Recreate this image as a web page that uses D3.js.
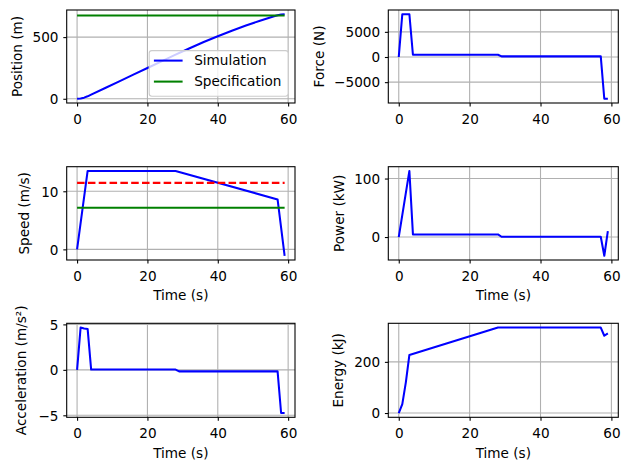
<!DOCTYPE html>
<html><head><meta charset="utf-8">
<script src="https://cdn.jsdelivr.net/npm/d3@7"></script>
<style>
body{margin:0;background:#fff}
svg text{font-family:"DejaVu Sans",sans-serif;font-size:13.6px;fill:#000}
</style>
</head><body>
<svg id="chart" width="629" height="470"></svg>
<script>
// ---------- data ----------
const timeTicks = [0, 20, 40, 60];

const positionTime   = [0, 1, 2, 3, 4, 8, 12, 16, 20, 24, 28, 32, 36, 40, 44, 48, 52, 56, 57, 58, 59];
const positionValues = [0, 2, 9, 20, 33.5, 87.5, 141.5, 195.5, 249.5, 303.5, 357.5, 410, 460, 507, 552, 594, 633, 669, 678, 684, 685.5];
const positionSpec   = 675;
const positionTicks  = [0, 500];

const forceTime   = [0, 1, 3, 4, 28, 29, 57, 58, 59];
const forceValues = [0, 8500, 8500, 450, 450, 120, 120, -8300, -8300];
const forceTicks  = [-5000, 0, 5000];

const speedTime   = [0, 3, 28, 57, 58, 59];
const speedValues = [0, 13.5, 13.5, 8.6, 3.75, -1.1];
const speedMax    = 11.45;   // red dashed
const speedSpec   = 7.15;    // green
const speedTicks  = [0, 10];

const powerTime   = [0, 3, 4, 28, 29, 57, 58, 59];
const powerValues = [0, 113, 4.5, 4.5, 0.5, 0.5, -32, 10];
const powerTicks  = [0, 100];

const accelTime   = [0, 1, 2, 3, 4, 28, 29, 57, 58, 59];
const accelValues = [0, 4.65, 4.55, 4.5, 0.03, 0.03, -0.17, -0.17, -4.75, -4.75];
const accelTicks  = [-5, 0, 5];

const energyTime   = [0, 1, 2, 3, 28, 57, 58, 59];
const energyValues = [0, 35, 120, 227, 334, 334, 302, 311];
const energyTicks  = [0, 200];

const legendLabels = ["Simulation", "Specification"];

// ---------- layout ----------
const colX = [{l: 66.7, r: 295}, {l: 388.3, r: 618.3}];
const rowY = [{t: 10, b: 103}, {t: 166.7, b: 260}, {t: 323.3, b: 417.3}];
const ylabelX = [[17.5, 319.2], [24.2, 339.2], [21.7, 338.5]];
const BLUE = "#0000ff", GREEN = "#008000", RED = "#ff0000";
const LW = 2.05, GRID = "#b0b0b0", GW = 1.09, TICK = 3.4, PAD = 4.8;

const panels = [
  {row:0,col:0,ylabel:"Position (m)",t:positionTime,v:positionValues,ticks:positionTicks,
   hlines:[{y:positionSpec,color:GREEN}],legend:true,xlabel:false},
  {row:0,col:1,ylabel:"Force (N)",t:forceTime,v:forceValues,ticks:forceTicks,hlines:[],xlabel:false},
  {row:1,col:0,ylabel:"Speed (m/s)",t:speedTime,v:speedValues,ticks:speedTicks,
   hlines:[{y:speedMax,color:RED,dash:"7.55,3.27"},{y:speedSpec,color:GREEN}],xlabel:true},
  {row:1,col:1,ylabel:"Power (kW)",t:powerTime,v:powerValues,ticks:powerTicks,hlines:[],xlabel:true},
  {row:2,col:0,ylabel:"Acceleration (m/s²)",t:accelTime,v:accelValues,ticks:accelTicks,hlines:[],xlabel:true},
  {row:2,col:1,ylabel:"Energy (kJ)",t:energyTime,v:energyValues,ticks:energyTicks,hlines:[],xlabel:true}
];

const svg = d3.select("#chart");
const fmt = d3.format("");

panels.forEach((p, i) => {
  const L = colX[p.col].l, R = colX[p.col].r, T = rowY[p.row].t, B = rowY[p.row].b;
  const tmin = d3.min(p.t), tmax = d3.max(p.t), tm = (tmax - tmin) * 0.05;
  const allY = p.v.concat(p.hlines.map(h => h.y));
  const ymin = d3.min(allY), ymax = d3.max(allY), ym = (ymax - ymin) * 0.05;
  const x = d3.scaleLinear().domain([tmin - tm, tmax + tm]).range([L, R]);
  const y = d3.scaleLinear().domain([ymin - ym, ymax + ym]).range([B, T]);

  const g = svg.append("g");
  g.append("clipPath").attr("id", "clip" + i).append("rect")
    .attr("x", L).attr("y", T).attr("width", R - L).attr("height", B - T);

  // grid
  const grid = g.append("g");
  timeTicks.forEach(tv => grid.append("line").attr("x1", x(tv)).attr("x2", x(tv)).attr("y1", T).attr("y2", B)
    .attr("stroke", GRID).attr("stroke-width", GW));
  p.ticks.forEach(tv => grid.append("line").attr("x1", L).attr("x2", R).attr("y1", y(tv)).attr("y2", y(tv))
    .attr("stroke", GRID).attr("stroke-width", GW));

  const plot = g.append("g").attr("clip-path", `url(#clip${i})`);
  const line = d3.line().x(d => x(d[0])).y(d => y(d[1]));
  plot.append("path").datum(p.t.map((tv, k) => [tv, p.v[k]]))
    .attr("d", line).attr("fill", "none").attr("stroke", BLUE).attr("stroke-width", LW)
    .attr("stroke-linejoin", "round").attr("stroke-linecap", "butt");
  p.hlines.forEach(h => {
    plot.append("path").datum([[tmin, h.y], [tmax, h.y]]).attr("d", line)
      .attr("fill", "none").attr("stroke", h.color).attr("stroke-width", LW)
      .attr("stroke-dasharray", h.dash || null);
  });

  // axes
  const xAxis = d3.axisBottom(x).tickValues(timeTicks).tickSize(TICK).tickPadding(PAD).tickFormat(fmt);
  const yAxis = d3.axisLeft(y).tickValues(p.ticks).tickSize(TICK).tickPadding(PAD).tickFormat(fmt);
  const gx = g.append("g").attr("transform", `translate(0,${B})`).call(xAxis);
  const gy = g.append("g").attr("transform", `translate(${L},0)`).call(yAxis);
  [gx, gy].forEach(a => {
    a.select(".domain").remove();
    a.selectAll(".tick line").attr("stroke", "#000").attr("stroke-width", GW);
    a.selectAll(".tick text").attr("font-family", null).attr("font-size", null).attr("fill", "#000");
  });
  gx.selectAll(".tick text").attr("dy", "0.95em");
  gy.selectAll(".tick text").attr("dy", "0.35em");

  // spines
  g.append("rect").attr("x", L).attr("y", T).attr("width", R - L).attr("height", B - T)
    .attr("fill", "none").attr("stroke", "#000").attr("stroke-width", GW);

  // labels
  g.append("text").attr("transform", `translate(${ylabelX[p.row][p.col]},${(T + B) / 2}) rotate(-90)`)
    .attr("text-anchor", "middle").attr("dy", "0.35em").text(p.ylabel);
  if (p.xlabel) {
    g.append("text").attr("x", (L + R) / 2).attr("y", B + 35.7).attr("text-anchor", "middle")
      .attr("dy", "0.35em").text("Time (s)");
  }

  if (p.legend) {
    const lw = 139, lh = 45.6, lr = R - 6.8, lb = B - 6.8;
    const lx = lr - lw, ly = lb - lh;
    const lg = g.append("g");
    lg.append("rect").attr("x", lx).attr("y", ly).attr("width", lw).attr("height", lh)
      .attr("rx", 2.7).attr("fill", "#fff").attr("fill-opacity", 0.8)
      .attr("stroke", "#cccccc").attr("stroke-width", 1.09);
    const colors = [BLUE, GREEN];
    legendLabels.forEach((lab, k) => {
      const yy = ly + 10 + k * 21;
      lg.append("line").attr("x1", lx + 4.7).attr("x2", lx + 33.4).attr("y1", yy).attr("y2", yy)
        .attr("stroke", colors[k]).attr("stroke-width", LW);
      lg.append("text").attr("x", lx + 45).attr("y", yy).attr("dy", "0.35em").text(lab);
    });
  }
});
</script>
</body></html>
